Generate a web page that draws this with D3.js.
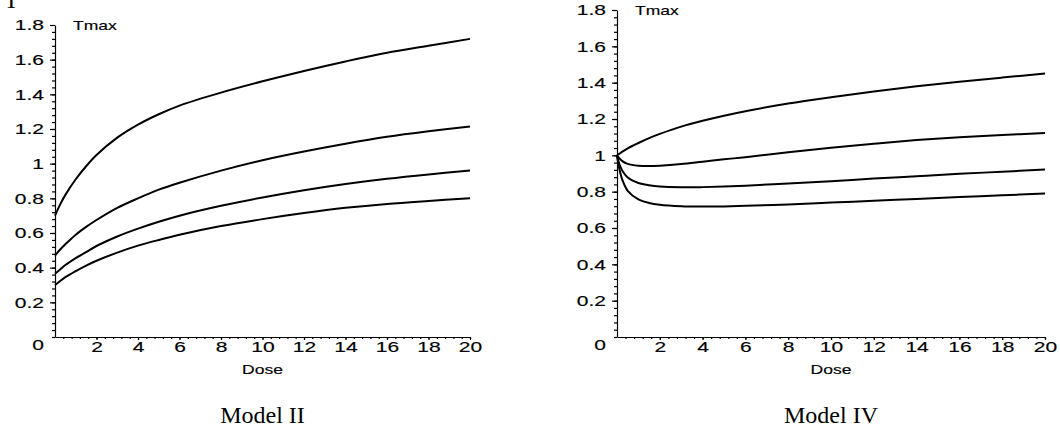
<!DOCTYPE html>
<html>
<head>
<meta charset="utf-8">
<script src="https://cdn.jsdelivr.net/npm/d3@7"></script>
<style>
  body { margin: 0; background: #fff; }
  svg { display: block; }
  .tick text, .lbl { font-family: "Liberation Sans", Arial, sans-serif; fill: #000; stroke: #000; stroke-width: 0.15px; }
</style>
</head>
<body>
<svg width="1060" height="432"></svg>
<script>
// values
const dosesII = [0, 0.25, 0.5, 1, 1.5, 2, 3, 4, 5, 6, 8, 10, 12, 14, 16, 18, 20];
const tmaxII_1 = [0.70, 0.765, 0.82, 0.91, 0.985, 1.05, 1.15, 1.225, 1.285, 1.335, 1.41, 1.475, 1.535, 1.59, 1.64, 1.68, 1.72];
const tmaxII_2 = [0.47, 0.505, 0.535, 0.59, 0.635, 0.675, 0.745, 0.80, 0.85, 0.89, 0.96, 1.02, 1.07, 1.115, 1.155, 1.187, 1.215];
const tmaxII_3 = [0.365, 0.39, 0.415, 0.455, 0.49, 0.525, 0.58, 0.625, 0.665, 0.70, 0.757, 0.805, 0.847, 0.883, 0.913, 0.938, 0.96];
const tmaxII_4 = [0.30, 0.323, 0.345, 0.38, 0.412, 0.44, 0.487, 0.527, 0.56, 0.59, 0.64, 0.68, 0.715, 0.745, 0.768, 0.785, 0.80];

const dosesIV = [0, 0.1, 0.25, 0.5, 1, 1.5, 2, 3, 4, 5, 6, 8, 10, 12, 14, 16, 18, 20];
const tmaxIV_1 = [1.0, 1.008, 1.02, 1.038, 1.068, 1.095, 1.118, 1.158, 1.19, 1.218, 1.243, 1.285, 1.32, 1.352, 1.38, 1.405, 1.428, 1.45];
const tmaxIV_2 = [1.0, 0.985, 0.968, 0.953, 0.943, 0.941, 0.943, 0.952, 0.965, 0.978, 0.99, 1.017, 1.042, 1.064, 1.084, 1.1, 1.112, 1.123];
const tmaxIV_3 = [1.0, 0.955, 0.915, 0.878, 0.848, 0.835, 0.828, 0.824, 0.825, 0.828, 0.833, 0.845, 0.858, 0.872, 0.885, 0.898, 0.91, 0.922];
const tmaxIV_4 = [1.0, 0.93, 0.865, 0.805, 0.758, 0.738, 0.728, 0.72, 0.718, 0.719, 0.722, 0.73, 0.74, 0.75, 0.76, 0.77, 0.78, 0.79];

const xTicks = [2, 4, 6, 8, 10, 12, 14, 16, 18, 20];
const yTicks = [0.2, 0.4, 0.6, 0.8, 1, 1.2, 1.4, 1.6, 1.8];

const SX = 1.5; // the plot's labels are stretched sideways
const SXW = 1.35;

const svg = d3.select("svg");

// stray fragment of a letter cut off at the top edge
svg.append("text")
  .attr("x", 4).attr("y", 8)
  .style("font-family", "'Liberation Serif', serif")
  .style("font-size", "24px")
  .text("T");

function drawPanel(left, right, top, bottom, doses, series, title) {
  const x = d3.scaleLinear().domain([0, 20]).range([left, right]);
  const y = d3.scaleLinear().domain([0, 1.8]).range([bottom, top]);
  const g = svg.append("g");

  // minor ticks
  g.append("g")
    .attr("transform", `translate(${left},0)`)
    .call(d3.axisLeft(y).tickValues(d3.range(0, 45).map(i => i * 0.04)).tickSize(3).tickFormat(""))
    .call(a => a.select(".domain").remove());
  g.append("g")
    .attr("transform", `translate(0,${bottom})`)
    .call(d3.axisBottom(x).tickValues(d3.range(1, 51).map(i => i * 0.4)).tickSize(2).tickFormat(""))
    .call(a => a.select(".domain").remove());

  // y axis
  const ya = g.append("g")
    .attr("transform", `translate(${left},0)`)
    .call(d3.axisLeft(y).tickValues(yTicks).tickSize(5).tickSizeOuter(0).tickFormat(d3.format("~g")));
  ya.selectAll(".tick text")
    .attr("x", -11 / SX)
    .attr("dy", "0.35em")
    .attr("transform", `scale(${SX},1)`)
    .style("font-size", "14px");

  // x axis
  const xa = g.append("g")
    .attr("transform", `translate(0,${bottom})`)
    .call(d3.axisBottom(x).tickValues(xTicks).tickSize(3).tickSizeOuter(0));
  xa.selectAll(".tick text")
    .attr("y", 5)
    .attr("transform", `scale(${SX},1)`)
    .style("font-size", "14px");

  g.selectAll(".domain, .tick line").attr("stroke", "#000").attr("stroke-width", 1.2);

  // the lone 0 at the origin
  g.append("text").attr("class", "lbl")
    .attr("transform", `translate(${left - 11},${bottom + 13}) scale(${SX},1)`)
    .attr("text-anchor", "end")
    .style("font-size", "14px")
    .text("0");

  g.append("text").attr("class", "lbl")
    .attr("transform", `translate(${left + 18},${top + 5}) scale(${SXW},1)`)
    .style("font-size", "13px")
    .text("Tmax");

  g.append("text").attr("class", "lbl")
    .attr("transform", `translate(${(left + right) / 2},${bottom + 37}) scale(${SXW},1)`)
    .attr("text-anchor", "middle")
    .style("font-size", "13px")
    .text("Dose");

  g.append("text")
    .attr("x", (left + right) / 2).attr("y", 423)
    .attr("text-anchor", "middle")
    .style("font-family", "'Liberation Serif', serif")
    .style("font-size", "24px")
    .text(title);

  const line = d3.line()
    .x((d, i) => x(doses[i]))
    .y(d => y(d))
    .curve(d3.curveCatmullRom.alpha(0.5));

  g.selectAll("path.curve")
    .data(series)
    .join("path")
    .attr("class", "curve")
    .attr("d", line)
    .attr("fill", "none")
    .attr("stroke", "#000")
    .attr("stroke-width", 2);
}

drawPanel(55, 470, 25, 337, dosesII, [tmaxII_1, tmaxII_2, tmaxII_3, tmaxII_4], "Model II");
drawPanel(617, 1045, 10, 337, dosesIV, [tmaxIV_1, tmaxIV_2, tmaxIV_3, tmaxIV_4], "Model IV");
</script>
</body>
</html>
